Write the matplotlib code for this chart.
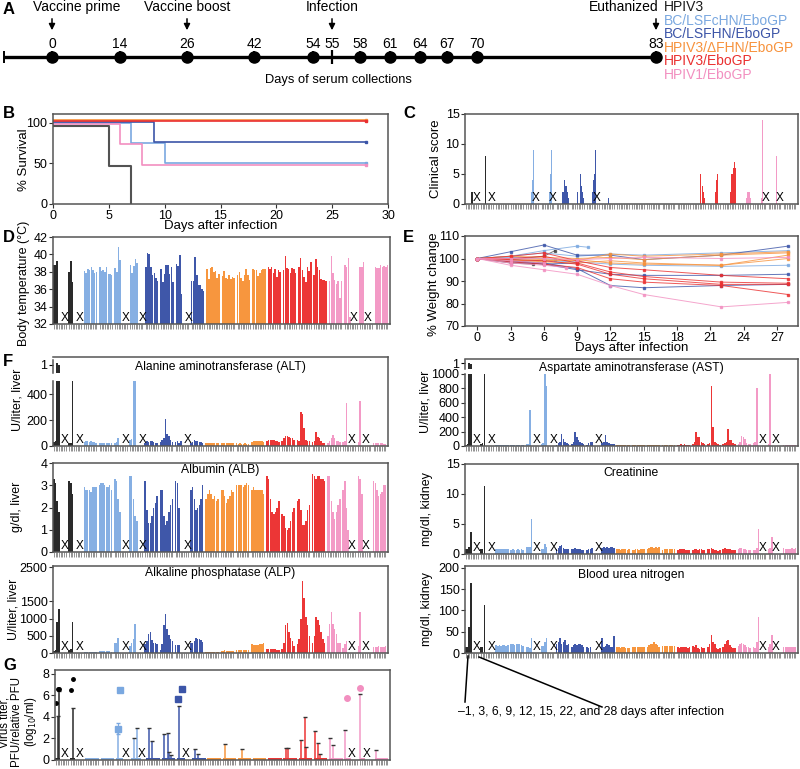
import numpy as np
import matplotlib
matplotlib.use("Agg")
import matplotlib.pyplot as plt
from matplotlib.lines import Line2D

plt.rcParams['font.family'] = ['Liberation Sans', 'DejaVu Sans']
plt.rcParams['font.size'] = 9

W, H = 800, 769

# ---------------- data ----------------
GROUP_NAMES = ['HPIV3', 'BC/LSFcHN/EboGP', 'BC/LSFHN/EboGP',
               'HPIV3/\u0394FHN/EboGP', 'HPIV3/EboGP', 'HPIV1/EboGP']
LINE_COLORS = ['#1a1a1a', '#7aa8e0', '#3c55a8', '#f7923c', '#ea2f2f', '#f28fc0']
BAR_COLORS = ['#2a2a2a', '#86afe3', '#3f57a9', '#f7963e', '#ec3636', '#f39ac6']
ANIMAL_GROUP = [0, 0, 1, 1, 1, 1, 2, 2, 2, 2, 3, 3, 3, 3, 4, 4, 4, 4, 5, 5, 5, 5]

# timeline (schematic positions)
TL_DAYS = [0, 14, 26, 42, 54, 58, 61, 64, 67, 70, 83]
TL_POS = [52, 120, 187, 254, 313, 360, 390, 420, 447, 477, 656]
INFECTION_POS = 332

# survival steps per group
SURV_DAYS = [[0, 5, 7], [0, 7, 10, 28], [0, 9, 28], [0, 28], [0, 28], [0, 6, 8, 28]]
SURV_PCT = [[100, 50, 0], [100, 75, 50, 50], [100, 75, 75], [100, 100], [100, 100],
            [100, 75, 50, 50]]
SURV_OFFSET = [-3.5, 0.3, 1.5, 3.0, 2.0, -1.5]

# clinical score: start sub-slot (of 16 per animal) and scores
SCORE_START = [6, 5, 0, 0, 6, 9, 6, 6, 6, 7, 0, 0, 0, 0, 0, 8, 8, 8, 9, 9, 9, 0]
SCORE_VALS = [[2, 2, 3, 13], [8], [], [], [2, 4, 9], [2, 5, 9],
              [2, 2, 2, 4, 3, 3, 2, 1], [2, 2, 3, 4, 5, 3, 2, 1], [2, 4, 5, 9], [1],
              [], [], [], [], [], [5, 2, 2, 3, 2, 1], [2, 4, 5, 4, 4, 2],
              [2, 5, 5, 6, 7, 6, 2], [1, 2, 2, 2, 1], [1, 14], [8], []]
SCORE_X = {0: .74, 1: .74, 4: .70, 5: .76, 8: .70, 19: .85, 20: .80}

# per-animal values at -1, 3, 6, 9, 12, 15, 22, 28 days (dead animals truncated)
DEAD_X = {0: .78, 1: .74, 4: .74, 5: .88, 8: .84, 19: .64, 20: .55}

TEMP = [
    [38.8, 38.8, 39.2], [38.0, 39.2, 36.8],
    [38.1, 37.9, 38.3, 38.2, 38.5, 38.2, 37.9, 38.0],
    [38.6, 38.1, 38.2, 38.0, 38.6, 37.8, 37.7, 37.6],
    [38.4, 38.0, 40.8, 39.4], [38.8, 37.9, 38.7, 39.5, 39.0],
    [38.6, 40.2, 40.0, 38.5, 37.6, 37.9, 37.3, 37.0],
    [38.3, 36.8, 37.8, 38.8, 38.8, 37.8, 38.6, 36.8],
    [38.9, 38.7, 39.9, 35.4],
    [36.9, 36.9, 39.7, 37.6, 36.5, 36.5, 36.0, 35.8],
    [38.3, 37.2, 38.4, 38.6, 38.0, 38.1, 37.3, 37.8],
    [37.5, 38.1, 37.3, 37.2, 37.6, 37.2, 37.4, 37.3],
    [37.6, 38.0, 37.3, 36.9, 37.6, 38.3, 37.6, 37.1],
    [38.3, 38.2, 38.2, 37.5, 37.9, 38.2, 38.3, 38.3],
    [38.5, 38.3, 38.6, 37.9, 38.3, 37.4, 38.2, 38.0],
    [38.2, 39.8, 38.4, 38.3, 37.9, 38.4, 38.3, 37.9],
    [38.5, 39.6, 38.2, 37.4, 36.8, 38.6, 38.1, 39.1],
    [37.6, 39.5, 38.5, 38.2, 37.2, 37.1, 37.1, 37.0],
    [37.0, 39.8, 37.9, 37.1, 36.6, 36.9, 35.0, 37.0],
    [38.8, 38.5, 39.6, 32.8], [38.5, 38.6, 39.1],
    [38.6, 38.4, 38.4, 38.8, 38.5, 38.7, 38.6, 38.8],
]

WT_DAYS = [0, 3, 6, 9, 12, 15, 22, 28]
WEIGHT = [
    [100, 98], [100, 99.5, 101],
    [100, 101, 102.5, 101, 102, 101.5, 102.5, 103.5],
    [100, 99.5, 99, 98.5, 97.5, 97, 96.5, 97],
    [100, 100.5, 100], [100, 101, 103.5, 105.5],
    [100, 103, 106, 101.5, 101.5, 99.5, 101.5, 105.5],
    [100, 99, 98, 95.5, 88, 87, 88, 88.5],
    [100, 98.5, 97.5, 98],
    [100, 99, 97.5, 95, 93, 92.5, 92.5, 93],
    [100, 100, 99.5, 99, 102, 101, 102, 103],
    [100, 101, 100.5, 100, 100.5, 99.5, 101.5, 102.5],
    [100, 99.5, 98.5, 98, 99, 98, 97, 101.5],
    [100, 99, 99, 99.5, 98, 97.5, 97, 100],
    [100, 101, 102.5, 99, 96, 95, 92.5, 91],
    [100, 100, 101, 98, 94, 92, 89.5, 89],
    [100, 98.5, 97.5, 96, 91, 89.5, 88, 84],
    [100, 99.5, 99, 97.5, 93, 91, 88.5, 88.5],
    [100, 97, 95, 93, 88, 84, 78.5, 80.5],
    [100, 98, 97], [100, 99, 98],
    [100, 100, 100, 99.5, 100, 100.5, 100, 100.5],
]
WT_LAST = {0: (5, 97.5), 1: (7, 103.5), 4: (7, 99.5), 5: (10, 105), 19: (8, 96)}

ALT = [
    [30, 40, 1300, 1250], [20, 25, 500],
    [30, 35, 35, 30, 35, 30, 28, 25], [25, 25, 25, 25, 25, 25, 25, 22],
    [20, 30, 65], [50, 55, 500, 500],
    [20, 35, 30, 40, 35, 30, 25, 20], [30, 50, 60, 210, 90, 80, 50, 30],
    [30, 35, 20, 40], [20, 30, 45, 40, 35, 30, 30, 25],
    [25, 25, 25, 22, 20, 22, 20, 20], [22, 22, 22, 20, 22, 20, 20, 22],
    [20, 18, 20, 18, 18, 20, 18, 18], [30, 35, 35, 38, 35, 35, 35, 30],
    [40, 50, 50, 45, 45, 40, 35, 30], [40, 60, 80, 75, 70, 60, 60, 50],
    [50, 40, 265, 250, 140, 50, 40, 40], [30, 40, 110, 70, 60, 40, 25, 20],
    [20, 40, 60, 85, 60, 40, 35, 30], [30, 40, 330], [30, 350],
    [25, 25, 25, 20, 22, 20, 18, 18],
]
AST = [
    [20, 30, 1250, 1200], [30, 40, 1000],
    [15, 15, 16, 15, 15, 16, 15, 15], [15, 16, 15, 15, 16, 15, 15, 15],
    [30, 30, 500], [30, 40, 1000, 840],
    [20, 40, 50, 160, 100, 60, 40, 30], [30, 60, 200, 130, 80, 60, 40, 30],
    [20, 40, 50, 60], [40, 60, 150, 60, 40, 30, 30, 30],
    [15, 14, 15, 15, 14, 15, 14, 14], [14, 15, 14, 15, 14, 14, 15, 14],
    [16, 17, 16, 15, 16, 17, 16, 15], [17, 16, 17, 17, 16, 17, 16, 16],
    [20, 20, 22, 20, 22, 20, 20, 20], [30, 50, 190, 130, 120, 60, 40, 30],
    [30, 40, 840, 270, 60, 40, 30, 20], [30, 40, 60, 230, 80, 80, 40, 30],
    [30, 60, 140, 130, 100, 40, 30, 30], [40, 60, 800], [30, 1000],
    [20, 20, 20, 20, 20, 20, 20, 20],
]
ALB = [
    [3.3, 3.1, 2.3, 1.8], [3.2, 3.1, 2.6],
    [2.9, 2.8, 2.8, 2.8, 2.7, 2.9, 2.9, 2.9], [3.0, 3.1, 3.1, 3.0, 2.9, 2.9, 3.0, 2.8],
    [3.3, 3.2, 2.4, 1.8], [3.4, 3.4, 2.4, 1.6, 1.4],
    [3.2, 1.9, 1.3, 1.3, 1.6, 2.0, 2.2, 2.5], [2.8, 2.8, 1.6, 1.2, 1.4, 1.8, 2.1, 2.4],
    [3.2, 3.1, 2.0], [2.8, 2.9, 2.4, 1.9, 2.0, 2.1, 2.4, 3.0],
    [2.4, 2.6, 2.8, 2.6, 2.4, 2.5, 2.3, 2.4], [2.8, 2.8, 2.5, 2.2, 2.4, 2.5, 2.8, 2.7],
    [3.0, 3.0, 3.0, 3.0, 2.9, 3.0, 3.1, 3.0], [2.8, 2.9, 2.8, 2.8, 2.8, 2.8, 2.8, 2.6],
    [3.4, 3.3, 2.4, 1.8, 1.7, 1.8, 2.0, 2.3], [1.7, 1.6, 1.1, 1.0, 1.1, 1.4, 1.8, 2.0],
    [2.3, 2.4, 1.9, 1.2, 1.2, 1.4, 1.9, 2.1], [3.5, 3.4, 3.3, 3.4, 3.4, 3.3, 3.3, 3.2],
    [3.4, 3.4, 2.3, 1.8, 1.5, 1.8, 2.1, 2.4], [2.8, 3.2, 2.0, 1.0], [3.4, 3.3, 2.6],
    [3.2, 3.1, 2.8, 2.5, 2.6, 2.7, 3.0, 3.0],
]
ALP = [
    [60, 80, 900, 1270], [100, 120, 900],
    [40, 40, 40, 40, 30, 30, 30, 30], [60, 60, 55, 50, 50, 50, 45, 40],
    [280, 290, 430], [200, 290, 420, 850],
    [250, 350, 550, 600, 380, 300, 280, 260], [80, 250, 800, 1120, 700, 520, 420, 350],
    [230, 220, 240], [300, 300, 350, 450, 420, 400, 380, 330],
    [40, 40, 30, 30, 30, 25, 25, 25], [50, 60, 80, 70, 60, 60, 50, 45],
    [90, 100, 100, 100, 100, 100, 100, 90], [255, 240, 230, 220, 230, 250, 260, 280],
    [110, 120, 120, 130, 120, 110, 100, 90], [120, 300, 800, 880, 600, 450, 350, 200],
    [250, 400, 1000, 2100, 1600, 1050, 800, 500], [300, 500, 1050, 950, 800, 600, 400, 300],
    [500, 850, 1200, 850, 700, 550, 300, 280], [150, 250, 350], [200, 1200],
    [180, 180, 180, 190, 180, 180, 180, 190],
]
CREAT = [
    [0.8, 0.8, 1.2, 3.6], [0.9, 0.8, 11.3],
    [0.8, 0.8, 0.9, 0.8, 0.8, 0.9, 0.9, 0.9], [0.7, 0.8, 0.7, 0.7, 0.8, 0.6, 0.8, 0.7],
    [1.2, 1.2, 1.1, 5.9], [0.9, 0.9, 1.6, 1.2],
    [0.8, 1.0, 1.3, 1.5, 1.0, 0.9, 0.8, 0.8], [0.8, 0.9, 1.0, 0.9, 0.9, 0.8, 0.7, 0.6],
    [0.6, 0.8, 0.9, 1.0], [1.0, 1.1, 1.0, 1.1, 1.0, 1.1, 1.2, 1.0],
    [0.8, 0.8, 0.7, 0.8, 0.9, 0.8, 0.7, 0.8], [0.7, 0.7, 0.8, 0.8, 0.7, 0.8, 0.8, 0.9],
    [0.9, 1.0, 1.1, 1.1, 1.0, 1.1, 1.0, 1.1], [0.7, 0.8, 0.9, 0.8, 0.9, 0.9, 0.8, 0.8],
    [0.7, 0.8, 0.8, 0.8, 0.8, 0.7, 0.7, 0.6], [0.7, 0.8, 0.8, 0.7, 0.8, 0.8, 0.7, 0.7],
    [0.8, 0.9, 1.0, 0.9, 0.7, 0.6, 0.5, 0.6], [0.8, 1.0, 0.9, 0.8, 0.8, 0.7, 0.7, 0.6],
    [0.9, 1.0, 1.0, 0.9, 0.8, 0.7, 0.6, 0.6], [0.6, 0.7, 1.0, 4.2], [0.8, 1.0, 2.9],
    [1.0, 0.9, 0.9, 0.8, 0.9, 1.0, 0.9, 1.0],
]
BUN = [
    [15, 15, 60, 165], [15, 15, 112],
    [18, 17, 18, 17, 18, 18, 17, 18], [20, 20, 19, 20, 21, 20, 18, 17],
    [15, 14, 12, 35], [17, 16, 25, 35],
    [20, 25, 35, 20, 25, 30, 18, 20], [15, 18, 22, 18, 20, 22, 18, 14],
    [15, 12, 15], [35, 15, 17, 20, 18, 15, 13, 40],
    [13, 13, 12, 13, 13, 12, 12, 12], [13, 14, 15, 15, 14, 13, 13, 14],
    [15, 18, 20, 22, 25, 22, 18, 15], [16, 16, 17, 17, 16, 16, 16, 17],
    [15, 12, 13, 14, 14, 13, 12, 14], [17, 15, 18, 12, 10, 13, 12, 11],
    [15, 20, 42, 25, 20, 12, 10, 12], [15, 20, 28, 30, 18, 15, 12, 12],
    [17, 20, 24, 22, 18, 15, 14, 12], [15, 12, 25, 85], [15, 20, 42],
    [14, 14, 14, 15, 15, 14, 14, 14],
]
# virus titer (0 = not detected)
TITER = [
    [0, 4.1, 6.4], [0, 4.8, 0],
    [0] * 8, [0] * 8, [0, 2.9, 0, 0], [0, 2.0, 0, 3.0, 0, 0],
    [0, 3.0, 0, 1.8, 0, 0, 0, 0], [0, 2.4, 0, 2.5, 0.7, 0.5, 0, 0],
    [0, 5.0, 0, 0, 0], [0, 1.0, 0, 0.6, 0, 0, 0, 0],
    [0] * 8, [0, 1.5, 0, 0, 0, 0, 0, 0], [0, 0, 1.0, 0, 0, 0, 0, 0], [0] * 8,
    [0] * 8, [0, 1.1, 1.1, 0, 0, 0, 0, 0], [0, 1.9, 0, 4.0, 1.2, 0, 0, 0],
    [2.7, 0, 1.6, 0.6, 0, 0, 0, 0], [2.0, 0, 1.4, 0, 0, 0, 0, 0],
    [2.8, 0, 0, 0], [6.1, 0, 0], [0.9, 0, 0, 0, 0, 0, 0, 0],
]
TITER_X = {0: .66, 1: .64, 4: .66, 5: .68, 8: .61, 19: .48, 20: .46}
PT_ANIMAL = [0, 0, 0, 1, 1, 4, 4, 8, 8, 19, 20]
PT_FRAC = [.07, .20, .28, .03, .15, .15, .26, .11, .33, .15, .04]
PT_VAL = [5.3, 6.6, 6.6, 6.5, 7.5, 2.9, 6.5, 5.7, 6.6, 5.8, 6.7]
PT_ERR = [0, 0, 0, 0, 0, 0.5, 0, 0, 0, 0, 0]
PT_MARK = {0: 'o', 1: 's', 2: 's', 5: 'o'}


# ---------------- helpers ----------------
def add_ax(fig, left, top, right, bottom):
    return fig.add_axes([left / W, 1 - bottom / H, (right - left) / W, (bottom - top) / H])


def style(ax):
    for s in ax.spines.values():
        s.set_color('#555555')
        s.set_linewidth(1.1)
    ax.tick_params(labelsize=9, length=3, width=0.8, color='#333333', pad=1)


def slot_ticks(ax):
    ticks = [g + (j + 0.5) / 9 for g in range(22) for j in range(8)]
    ax.set_xticks(ticks)
    ax.set_xticklabels([])
    ax.set_xlim(0, 22)


def xtick_style(ax):
    ax.tick_params(axis='x', length=3.5, width=0.5, color='#666666')


def bar_panel(ax, values, base=0.0, cap=None, xfrac=DEAD_X):
    for g, vals in enumerate(values):
        v = np.array(vals, dtype=float)
        if cap is not None:
            v = np.minimum(v, cap)
        xs = g + (np.arange(len(v)) + 0.5) / 9
        ax.bar(xs, v - base, bottom=base, width=0.9 / 9,
               color=BAR_COLORS[ANIMAL_GROUP[g]], linewidth=0)
    for g, fr in xfrac.items():
        ax.text(g + fr, base, 'X', ha='center', va='bottom', fontsize=8.5)
    slot_ticks(ax)


def top_break(fig, box, values, lo, hi, label_at):
    m = add_ax(fig, *box)
    m.patch.set_alpha(0)
    for g, vals in enumerate(values):
        v = np.array(vals, dtype=float)
        xs = g + (np.arange(len(v)) + 0.5) / 9
        keep = v > lo
        m.bar(xs[keep], v[keep] - lo, bottom=lo, width=0.9 / 9,
              color=BAR_COLORS[ANIMAL_GROUP[g]], linewidth=0)
    m.set_xlim(0, 22)
    m.set_ylim(lo, hi)
    for s in ['top', 'right', 'bottom']:
        m.spines[s].set_visible(False)
    m.spines['left'].set_color('#555555')
    m.spines['left'].set_linewidth(1.1)
    m.set_xticks([])
    m.set_yticks([label_at])
    m.set_yticklabels(['1'])
    m.tick_params(labelsize=9, length=3, pad=1)


def ylab(fig, x, yc, text, size=9):
    fig.text(x / W, 1 - yc / H, text, rotation=90, ha='center', va='center',
             fontsize=size, linespacing=1.0)


def panel_letter(fig, x, y, s):
    fig.text(x / W, 1 - y / H, s, fontsize=12, fontweight='bold', ha='left', va='center')


def box_title(ax, text, y=0.97):
    ax.text(0.5, y, text, transform=ax.transAxes, ha='center', va='top', fontsize=8.7)


fig = plt.figure(figsize=(8, 7.69), dpi=100)

# ---------------- A: timeline ----------------
axA = fig.add_axes([0, 1 - 110 / H, 1, 110 / H])
axA.set_xlim(0, W)
axA.set_ylim(110, 0)
axA.axis('off')
ty = 57
axA.plot([4, TL_POS[-1]], [ty, ty], color='k', lw=2.4, solid_capstyle='butt')
axA.vlines([4] + TL_POS, ty - 6, ty + 6, color='k', lw=1.4)
axA.vlines([INFECTION_POS], ty - 7, ty + 7, color='k', lw=1.6)
axA.plot(TL_POS, [ty] * len(TL_POS), 'o', color='k', ms=8)
for d, x in zip(TL_DAYS, TL_POS):
    axA.text(x, 44, str(d), ha='center', va='center', fontsize=10)
axA.text(INFECTION_POS, 44, '55', ha='center', va='center', fontsize=10)
for x, lbl, ha, dx in [(TL_POS[0], 'Vaccine prime', 'left', -19), (TL_POS[2], 'Vaccine boost', 'center', 0),
                       (INFECTION_POS, 'Infection', 'center', 0), (TL_POS[-1], 'Euthanized', 'right', 3)]:
    axA.text(x + dx, 7, lbl, ha=ha, va='center', fontsize=10)
    axA.annotate('', xy=(x, 33), xytext=(x, 16),
                 arrowprops=dict(arrowstyle='-|>', color='k', lw=1.1, mutation_scale=9))
axA.text(338, 80, 'Days of serum collections', ha='center', va='center', fontsize=9.3)
for i, (name, col) in enumerate(zip(GROUP_NAMES, LINE_COLORS)):
    axA.text(664, 7 + i * 13.6, name, color=col, ha='left', va='center', fontsize=10)
panel_letter(fig, 3, 10, 'A')

# ---------------- B: survival ----------------
axB = add_ax(fig, 53, 114, 388, 204)
for g in range(6):
    y = np.array(SURV_PCT[g], dtype=float)
    y = np.where(y > 0, y + SURV_OFFSET[g], 0)
    axB.plot(SURV_DAYS[g], y, drawstyle='steps-post', color=LINE_COLORS[g],
             lw=1.5 if g == 0 else 1.2, alpha=0.75 if g == 0 else 1)
    if SURV_DAYS[g][-1] == 28:
        axB.plot([28], [y[-1]], 's', ms=2, color=LINE_COLORS[g])
axB.set_xlim(0, 30)
axB.set_ylim(0, 111)
axB.set_xticks(range(0, 31, 5))
axB.set_yticks([0, 50, 100])
style(axB)
axB.set_xlabel('Days after infection', fontsize=9.5, labelpad=-1)
ylab(fig, 24, 160, '% Survival', size=9.5)
panel_letter(fig, 3, 113, 'B')

# ---------------- C: clinical score ----------------
axC = add_ax(fig, 465, 114, 798, 204)
for g in range(22):
    vals = SCORE_VALS[g]
    xs = g + (SCORE_START[g] + np.arange(len(vals)) + 0.5) / 16
    axC.bar(xs, vals, width=0.9 / 16, color=BAR_COLORS[ANIMAL_GROUP[g]], linewidth=0)
for g, fr in SCORE_X.items():
    axC.text(g + fr, 0, 'X', ha='center', va='bottom', fontsize=8.5)
slot_ticks(axC)
axC.set_ylim(0, 15)
axC.set_yticks([0, 5, 10, 15])
style(axC)
xtick_style(axC)
ylab(fig, 436, 159, 'Clinical score', size=9.5)
panel_letter(fig, 403, 113, 'C')

# ---------------- D: body temperature ----------------
axD = add_ax(fig, 53, 237, 390, 324)
bar_panel(axD, TEMP, base=32)
axD.set_ylim(32, 42)
axD.set_yticks(range(32, 43, 2))
style(axD)
xtick_style(axD)
ylab(fig, 24, 283, 'Body temperature (\u00b0C)')
panel_letter(fig, 3, 238, 'D')

# ---------------- E: weight ----------------
axE = add_ax(fig, 465, 236, 798, 326)
for g in range(22):
    xs = list(WT_DAYS[:len(WEIGHT[g])])
    ys = list(WEIGHT[g])
    if g in WT_LAST:
        xs.append(WT_LAST[g][0])
        ys.append(WT_LAST[g][1])
    col = LINE_COLORS[ANIMAL_GROUP[g]]
    axE.plot(xs, ys, '-s', color=col, lw=0.7, ms=1.5, alpha=0.8 if ANIMAL_GROUP[g] else 0.6)
axE.set_xlim(-1.1, 28.9)
axE.set_ylim(70, 110)
axE.set_xticks(range(0, 28, 3))
axE.set_yticks(range(70, 111, 10))
style(axE)
axE.set_xlabel('Days after infection', fontsize=9.5, labelpad=-1)
ylab(fig, 434, 284, '% Weight change', size=9.5)
panel_letter(fig, 403, 238, 'E')

# ---------------- F: chemistry ----------------
axALT = add_ax(fig, 53, 357, 388, 446)
bar_panel(axALT, ALT, cap=500)
axALT.set_ylim(0, 685)
axALT.set_yticks([0, 200, 400])
style(axALT)
axALT.spines['left'].set_bounds(0, 500)
xtick_style(axALT)
box_title(axALT, 'Alanine aminotransferase (ALT)', y=0.95)
top_break(fig, (53, 360, 388, 373), ALT, 1000, 1400, 1250)
ylab(fig, 17, 400, 'U/liter, liver')
panel_letter(fig, 3, 362, 'F')

axALB = add_ax(fig, 53, 463, 388, 552)
bar_panel(axALB, ALB)
axALB.set_ylim(0, 4)
axALB.set_yticks(range(0, 5))
style(axALB)
xtick_style(axALB)
box_title(axALB, 'Albumin (ALB)', y=0.985)
ylab(fig, 17, 507, 'g/dl, liver')

axALP = add_ax(fig, 53, 566, 388, 653)
bar_panel(axALP, ALP)
axALP.set_ylim(0, 2530)
axALP.set_yticks([0, 500, 1000, 1500, 2500])
style(axALP)
xtick_style(axALP)
box_title(axALP, 'Alkaline phosphatase (ALP)', y=0.985)
ylab(fig, 13, 609, 'U/liter, liver', size=8.8)

axAST = add_ax(fig, 465, 359, 798, 446)
bar_panel(axAST, AST, cap=1000)
axAST.set_ylim(0, 1208)
axAST.set_yticks(range(0, 1001, 200))
style(axAST)
axAST.spines['left'].set_bounds(0, 1000)
xtick_style(axAST)
box_title(axAST, 'Aspartate aminotransferase (AST)', y=0.96)
top_break(fig, (465, 360, 798, 369), AST, 1000, 1400, 1250)
ylab(fig, 425, 402, 'U/liter, liver')

axCR = add_ax(fig, 465, 464, 798, 554)
bar_panel(axCR, CREAT)
axCR.set_ylim(0, 15)
axCR.set_yticks([0, 5, 10, 15])
style(axCR)
xtick_style(axCR)
box_title(axCR, 'Creatinine')
ylab(fig, 427, 509, 'mg/dl, kidney')

axBUN = add_ax(fig, 465, 566, 798, 653)
bar_panel(axBUN, BUN)
axBUN.set_ylim(0, 204)
axBUN.set_yticks(range(0, 201, 50))
style(axBUN)
xtick_style(axBUN)
box_title(axBUN, 'Blood urea nitrogen')
ylab(fig, 427, 609, 'mg/dl, kidney')

# annotation for time points
fig.add_artist(Line2D([468 / W, 465 / W], [1 - 656 / H, 1 - 702 / H], color='k', lw=1.1))
fig.add_artist(Line2D([479 / W, 602 / W], [1 - 657 / H, 1 - 707 / H], color='k', lw=1.1))
fig.text(458 / W, 1 - 712 / H, '\u20131, 3, 6, 9, 12, 15, 22, and 28 days after infection',
         ha='left', va='center', fontsize=8.8)

# ---------------- G: virus titer ----------------
axG = add_ax(fig, 55, 670, 390, 760)
for g, vals in enumerate(TITER):
    v = np.array(vals, dtype=float)
    xs = g + (np.arange(len(v)) + 0.5) / 9
    col = BAR_COLORS[ANIMAL_GROUP[g]]
    axG.bar(xs, np.full(len(v), 0.14), width=1 / 9, color=col, linewidth=0)
    hit = v > 0
    axG.vlines(xs[hit], 0, v[hit], color=col, lw=1.1)
    axG.plot(xs[hit], v[hit], '_', color='#333333', ms=2.5, mew=1)
for g, fr in TITER_X.items():
    axG.text(g + fr, 0, 'X', ha='center', va='bottom', fontsize=8.5)
for a, fr, val, err in zip(PT_ANIMAL, PT_FRAC, PT_VAL, PT_ERR):
    grp = ANIMAL_GROUP[a]
    mk = PT_MARK[grp]
    ms = 2.5 if grp == 0 else 4
    if err > 0:
        axG.errorbar(a + fr, val, yerr=err, fmt=mk, color=LINE_COLORS[grp], ms=ms,
                     capsize=1.5, elinewidth=0.8)
    else:
        axG.plot(a + fr, val, mk, color=LINE_COLORS[grp] if grp else 'k', ms=ms)
slot_ticks(axG)
axG.set_ylim(0, 8.36)
axG.set_yticks(range(0, 9, 2))
style(axG)
xtick_style(axG)
ylab(fig, 19, 722, 'Virus titer,\nPFU/relative PFU\n(log$_{10}$/ml)', size=8.3)
panel_letter(fig, 3, 666, 'G')

fig.savefig('out.png', dpi=100)
